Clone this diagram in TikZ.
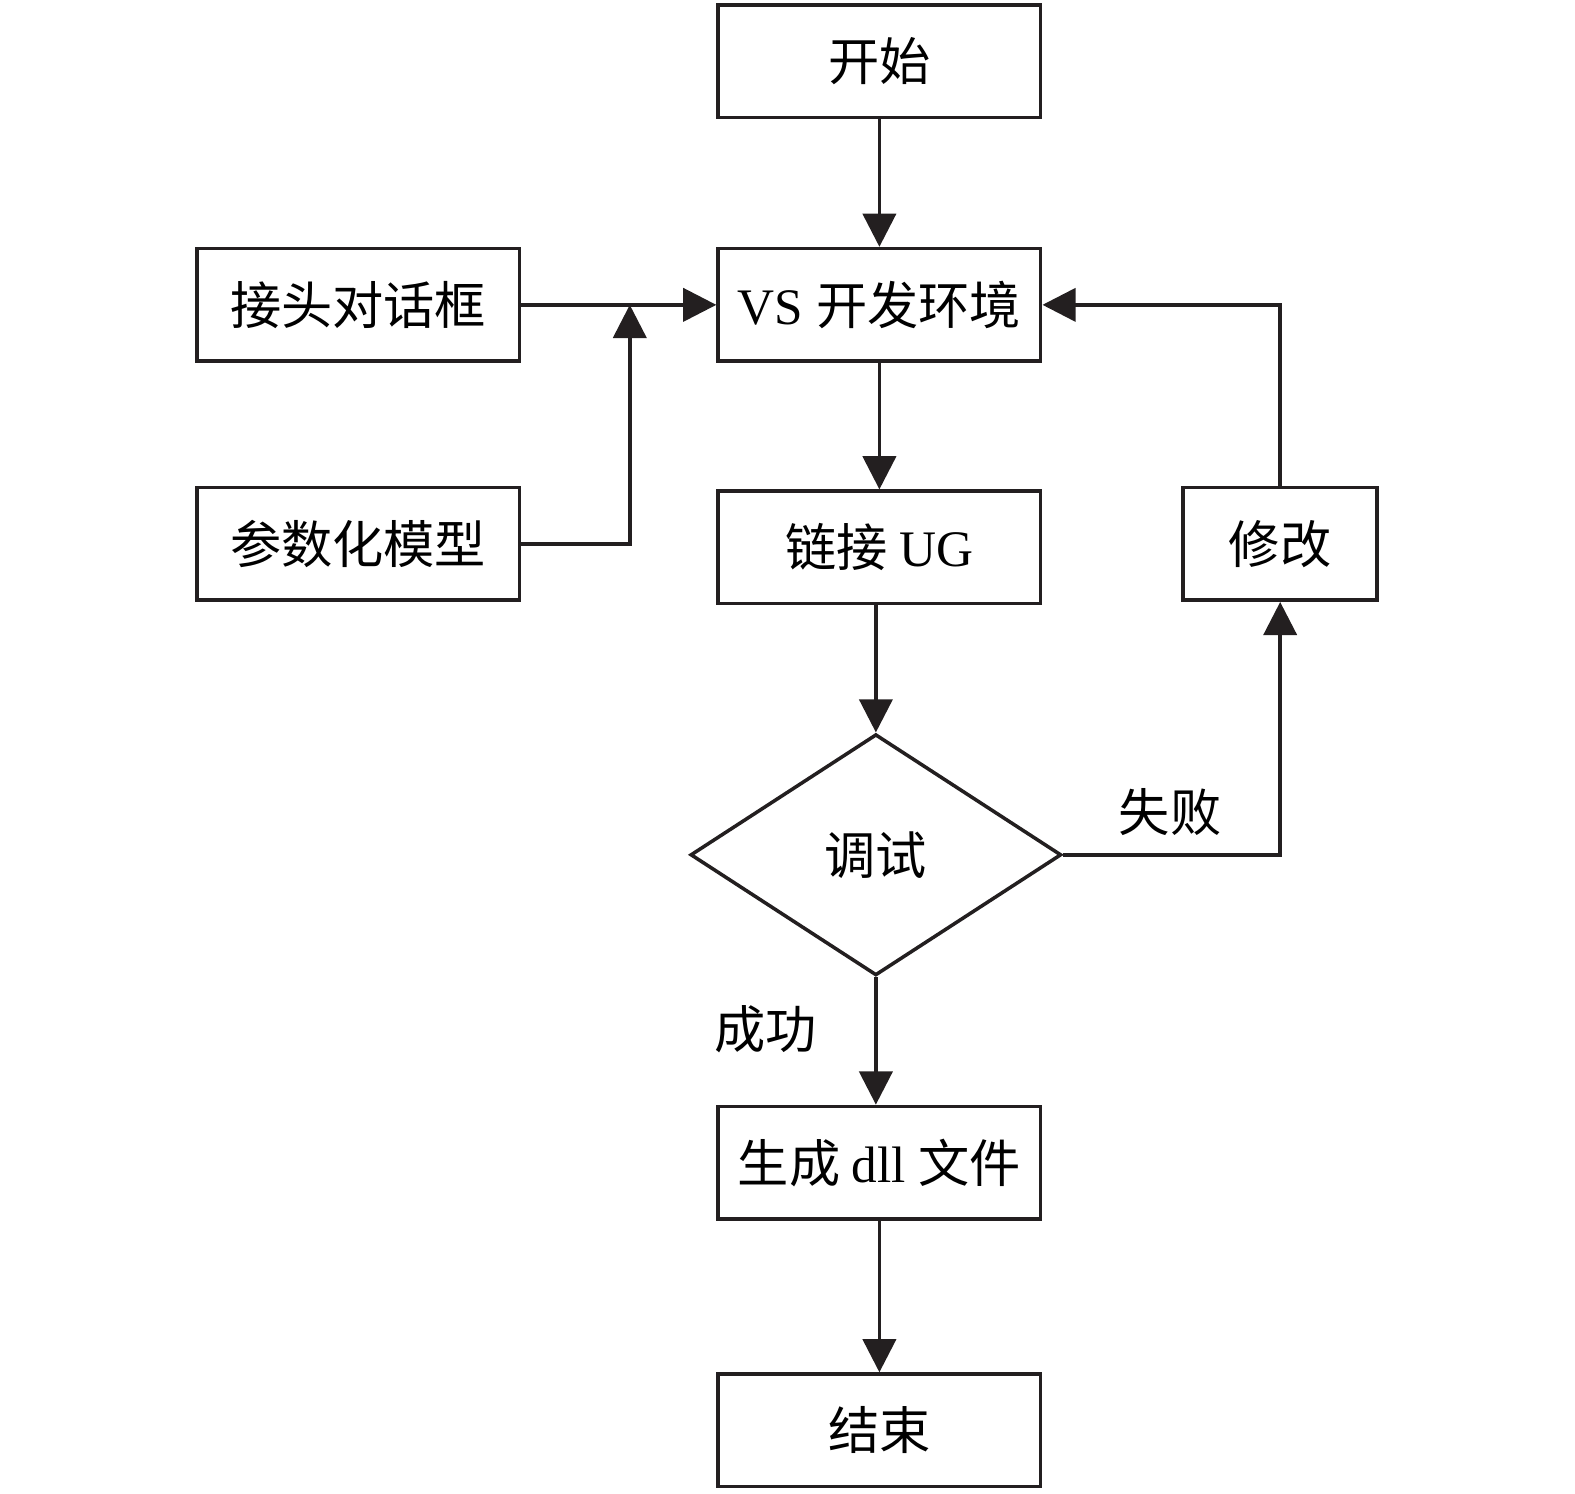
\documentclass[tikz,border=0pt]{standalone}
\usepackage{fontspec}
\setmainfont{Liberation Serif}
\newfontfamily\cjk{Noto Sans CJK SC}
\usetikzlibrary{positioning,arrows.meta,shapes.geometric}
\definecolor{ink}{HTML}{231F20}

\begin{document}
\begin{tikzpicture}[x=0.01cm,y=-0.01cm,
  line width=1pt,draw=ink,
  box/.style={draw=ink,rectangle,minimum width=3.21cm,minimum height=1.12cm,inner sep=0pt,font=\fontsize{14.5}{17}\selectfont},
  choice/.style={draw=ink,diamond,aspect=1.54,minimum width=3.69cm,minimum height=2.4cm,inner sep=0pt,font=\fontsize{14.5}{17}\selectfont},
  tag/.style={font=\fontsize{14.5}{17}\selectfont},
  flow/.style={-{Triangle[length=0.33cm,width=0.33cm]}}]
\useasboundingbox (0,0) rectangle (1568,1487);

\node[box] (start) at (875.5,61) {\cjk 开始};
\node[box] (vs) at (875.5,303.5) {VS \cjk 开发环境};
\node[box] (dlg) at (356.5,303.5) {\cjk 接头对话框};
\node[box] (model) at (356.5,541.5) {\cjk 参数化模型};
\node[box] (ug) at (875.5,545) {\cjk 链接\ \rmfamily UG};
\node[box,minimum width=1.93cm] (fix) at (1274.5,541.5) {\cjk 修改};
\node[choice] (debug) at (872,851) {\cjk 调试};
\node[box] (dll) at (875.5,1157.5) {\cjk 生成\ \rmfamily dll \cjk 文件};
\node[box] (stop) at (875.5,1424) {\cjk 结束};

\node[tag] (fail) at (1165,808) {\cjk 失败};
\node[tag] (ok) at (762,1025) {\cjk 成功};

\coordinate (join) at (627,303.5);

% main flow
\draw[flow] (start) -- (vs);
\draw[flow] (dlg) -- (vs);
\draw[flow] (model.east) -| (join);
\draw[flow] (vs.south) -- (vs.south |- ug.north);
\draw[flow] (ug.south -| debug.north) -- (debug.north);
\draw[flow] (debug.south) -- (debug.south |- dll.north);
\draw[flow] (dll) -- (stop);

% retry loop
\draw[flow] (debug.east) -| (fix.south);
\draw[flow] (fix.north) |- (vs.east);
\end{tikzpicture}
\end{document}
